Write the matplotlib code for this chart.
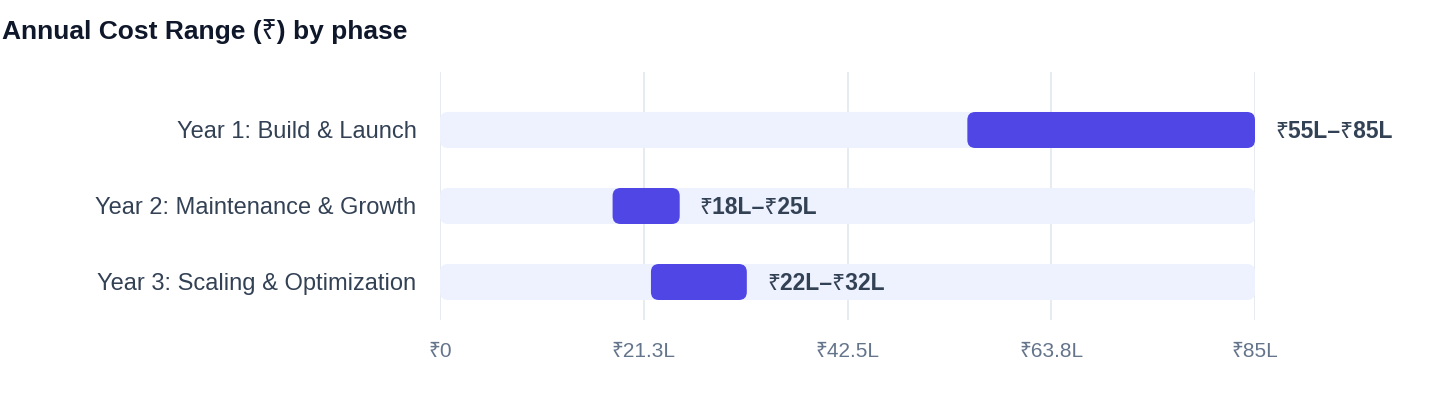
import matplotlib
matplotlib.use("Agg")
import matplotlib.pyplot as plt
from matplotlib.patches import FancyBboxPatch

plt.rcParams['font.family'] = ['Liberation Sans', 'Noto Sans', 'DejaVu Sans']

title = "Annual Cost Range (₹) by phase"
categories = ["Year 1: Build & Launch", "Year 2: Maintenance & Growth", "Year 3: Scaling & Optimization"]
low = [55, 18, 22]
high = [85, 25, 32]
axis_max = 85
ticks = [0, 21.25, 42.5, 63.75, 85]
tick_labels = ["₹0", "₹21.3L", "₹42.5L", "₹63.8L", "₹85L"]

W, H = 1440, 408
fig = plt.figure(figsize=(W / 100, H / 100), dpi=100)
ax = fig.add_axes([440 / W, 88 / H, 815 / W, 248 / H])
ax.set_xlim(0, axis_max)
ax.set_ylim(2.5, -0.763)

px_x = 815 / axis_max          # pixels per x unit
px_y = 248 / (2.5 + 0.763)     # pixels per y unit
bar_h = 36 / px_y
r_px = 8
r_x = r_px / px_x
aspect = (1 / px_y) / (1 / px_x)

track_col = "#eef2ff"
bar_col = "#4f46e5"

for i, (lo, hi) in enumerate(zip(low, high)):
    track = FancyBboxPatch((0, i - bar_h / 2), axis_max, bar_h,
                           boxstyle=f"round,pad=0,rounding_size={r_x}",
                           mutation_aspect=aspect, facecolor=track_col,
                           edgecolor="none", zorder=2)
    ax.add_patch(track)
    bar = FancyBboxPatch((lo, i - bar_h / 2), hi - lo, bar_h,
                         boxstyle=f"round,pad=0,rounding_size={r_x}",
                         mutation_aspect=aspect, facecolor=bar_col,
                         edgecolor="none", zorder=3)
    ax.add_patch(bar)
    ax.text(hi + 20 / px_x, i - 1 / px_y, f"₹{lo}L–₹{hi}L", va="center_baseline", ha="left",
            fontsize=16.5, fontweight="bold", color="#334155", zorder=4)

ax.set_yticks(range(len(categories)))
ax.set_yticklabels(categories, fontsize=17, color="#334155")
ax.set_xticks(ticks)
ax.set_xticklabels(tick_labels, fontsize=15, color="#64748b")
ax.tick_params(axis="y", length=0, pad=17)
ax.tick_params(axis="x", length=0, pad=16)
for s in ax.spines.values():
    s.set_visible(False)
ax.grid(axis="x", color="#e2e8f0", linewidth=1.2, zorder=0)
ax.set_axisbelow(True)

fig.text(2 / W, 1 - 32 / H, title, fontsize=19, fontweight="bold",
         color="#0f172a", va="center", ha="left")

fig.savefig("out.png", dpi=100)
